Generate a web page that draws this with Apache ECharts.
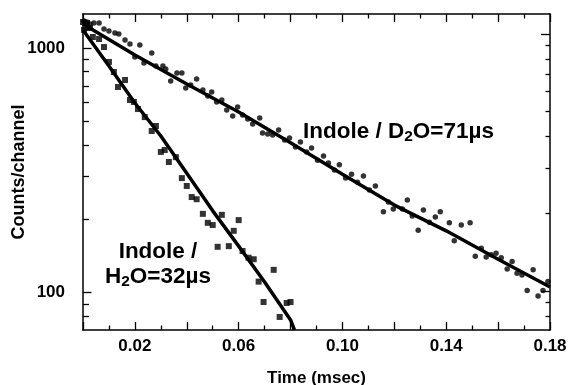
<!DOCTYPE html>
<html>
<head>
<meta charset="utf-8">
<script src="https://cdn.jsdelivr.net/npm/echarts@6/dist/echarts.min.js"></script>
<style>html,body{margin:0;padding:0;background:#fff}#c{width:571px;height:385px}</style>
</head>
<body>
<div id="c"></div>
<script>
// ---- data ----
const h2oTime = [0.0000,0.0004,0.0015,0.0027,0.0038,0.0062,0.0081,0.0100,0.0119,0.0135,0.0162,0.0181,0.0196,0.0212,0.0238,0.0265,0.0281,0.0300,0.0315,0.0331,0.0358,0.0381,0.0400,0.0419,0.0438,0.0462,0.0481,0.0500,0.0519,0.0535,0.0562,0.0581,0.0600,0.0615,0.0638,0.0658,0.0677,0.0696,0.0735,0.0758,0.0785,0.0800];
const h2oCounts = [1277,1185,1265,1207,1109,1088,1009,877,798,693,740,613,602,563,522,458,480,376,383,342,358,294,273,246,241,210,193,189,154,208,155,179,198,148,139,137,111,91.6,124,79.6,90.8,91.6];

const d2oTime = [0.0004,0.0015,0.0016,0.0027,0.0042,0.0062,0.0081,0.0100,0.0123,0.0138,0.0162,0.0181,0.0200,0.0219,0.0235,0.0265,0.0281,0.0308,0.0319,0.0338,0.0362,0.0381,0.0396,0.0415,0.0438,0.0462,0.0481,0.0496,0.0515,0.0535,0.0554,0.0577,0.0596,0.0615,0.0635,0.0654,0.0681,0.0692,0.0712,0.0731,0.0754,0.0777,0.0796,0.0819,0.0838,0.0862,0.0881,0.0904,0.0927,0.0946,0.0969,0.0988,0.1012,0.1035,0.1058,0.1081,0.1104,0.1127,0.1158,0.1177,0.1196,0.1231,0.1250,0.1269,0.1292,0.1312,0.1335,0.1358,0.1377,0.1412,0.1431,0.1458,0.1492,0.1512,0.1535,0.1554,0.1573,0.1592,0.1612,0.1635,0.1654,0.1673,0.1692,0.1712,0.1735,0.1754,0.1773,0.1792];
const d2oCounts = [1289,1277,1207,1253,1265,1265,1196,1173,1152,1141,1078,1038,919,1029,868,954,844,844,821,733,790,790,686,706,747,674,637,661,602,613,558,527,574,532,513,489,518,449,445,441,462,421,429,394,413,376,390,348,362,339,317,333,294,305,283,300,263,273,214,235,220,220,239,206,180,218,194,204,214,193,163,189,193,141,152,140,143,145,139,125,134,120,118,102,124,97,102,111];

const h2oFitTime = [0.000,0.010,0.020,0.030,0.040,0.050,0.060,0.070,0.080,0.0815];
const h2oFitCounts = [1185,844,596,437,308,216,155,110.6,77.4,70.4];
const d2oFitTime = [0.000,0.020,0.040,0.060,0.080,0.100,0.120,0.140,0.160,0.180];
const d2oFitCounts = [1253,936,713,548,410,305,228,179,137,105.5];

const xTickLabels = ['0.02','0.06','0.10','0.14','0.18'];
const yMajorTicks = [100,1000];
const yMinorTicks = [80,90,200,300,400,500,600,700,800,900];

// ---- chart ----
const pairs = (a,b) => a.map((v,i)=>[v,b[i]]);
const FONT = '"Liberation Sans", Arial, Helvetica, sans-serif';
const BLACK = '#000';
const chart = echarts.init(document.getElementById('c'), null, {renderer:'canvas'});

const grid = {left:83, right:21, top:14, bottom:55, containLabel:false, outerBoundsMode:'none'};
const xBase = (pos, labels) => ({
  type:'value', position:pos, min:0, max:0.18, interval:0.02,
  axisLine:{show:true, onZero:false, lineStyle:{color:BLACK, width:1.5}},
  axisTick:{show:true, inside:true, length:8, lineStyle:{color:BLACK, width:1.3}},
  minorTick:{show:true, splitNumber:2, length:4.5, lineStyle:{color:BLACK, width:1.3}},
  splitLine:{show:false}, minorSplitLine:{show:false},
  axisLabel:{show:labels, margin:8, color:BLACK, fontFamily:FONT, fontWeight:'bold', fontSize:17,
    formatter:(v)=>{const s=v.toFixed(2); return xTickLabels.includes(s)?s:'';}}
});
const yBase = (pos, min, max, ticks, len, labels, line) => ({
  type:'log', logBase:10, position:pos, min:min, max:max,
  axisLine:{show:line, onZero:false, lineStyle:{color:BLACK, width:1.5}},
  axisTick:{show:true, inside:true, length:len, customValues:ticks, lineStyle:{color:BLACK, width:1.3}},
  splitLine:{show:false}, minorTick:{show:false},
  axisLabel:{show:labels, customValues:labels?yMajorTicks:undefined, margin:18, color:BLACK, fontFamily:FONT, fontWeight:'bold', fontSize:17,
    formatter:(v)=>String(Math.round(v))}
});

const xa0 = xBase('bottom', true);
xa0.name = 'Time (msec)'; xa0.nameLocation='middle'; xa0.nameGap=40; xa0.nameMoveOverlap=false;
xa0.nameTextStyle = {color:BLACK, fontFamily:FONT, fontWeight:'bold', fontSize:17};
const xa1 = xBase('top', false);

const ya0 = yBase('left', 70.4, 1377, yMajorTicks, 8.5, true, true);
ya0.name = 'Counts/channel'; ya0.nameLocation='middle'; ya0.nameGap=55; ya0.nameRotate=90; ya0.nameMoveOverlap=false;
ya0.nameTextStyle = {color:BLACK, fontFamily:FONT, fontWeight:'bold', fontSize:18};
const ya1 = yBase('left', 70.4, 1377, yMinorTicks, 6, false, false);
const ya2 = yBase('right', 70.5, 1196, yMajorTicks, 9, false, true);
const ya3 = yBase('right', 70.5, 1196, yMinorTicks, 4.5, false, false);

const richMain = {a:{fontFamily:FONT, fontWeight:'bold', fontSize:22.5, lineHeight:24, fill:BLACK, color:BLACK},
                  s:{fontFamily:FONT, fontWeight:'bold', fontSize:15.5, lineHeight:24, padding:[10,0,0,0], fill:BLACK, color:BLACK}};

chart.setOption({
  animation:false,
  backgroundColor:'#fff',
  grid:grid,
  xAxis:[xa0, xa1],
  yAxis:[ya0, ya1, ya2, ya3],
  series:[
    {type:'scatter', name:'H2O', data:pairs(h2oTime,h2oCounts), symbol:'rect', symbolSize:6,
     itemStyle:{color:BLACK}, xAxisIndex:0, yAxisIndex:0, z:3},
    {type:'scatter', name:'D2O', data:pairs(d2oTime,d2oCounts), symbol:'circle', symbolSize:5.5,
     itemStyle:{color:BLACK}, xAxisIndex:0, yAxisIndex:0, z:3},
    {type:'line', name:'H2O fit', data:pairs(h2oFitTime,h2oFitCounts), showSymbol:false, symbol:'none',
     lineStyle:{color:BLACK, width:3.5}, xAxisIndex:0, yAxisIndex:0, z:4, clip:true},
    {type:'line', name:'D2O fit', data:pairs(d2oFitTime,d2oFitCounts), showSymbol:false, symbol:'none',
     lineStyle:{color:BLACK, width:3.5}, xAxisIndex:0, yAxisIndex:0, z:4, clip:true}
  ],
  graphic:[
    {type:'text', left:303, top:119, style:{text:'{a|Indole / D}{s|2}{a|O=71µs}', rich:richMain, fill:BLACK}},
    {type:'text', x:158, y:240, style:{text:'{a|Indole /}', rich:richMain, fill:BLACK, align:'center', verticalAlign:'top'}},
    {type:'text', x:158, y:265, style:{text:'{a|H}{s|2}{a|O=32µs}', rich:richMain, fill:BLACK, align:'center', verticalAlign:'top'}}
  ]
});
</script>
</body>
</html>
